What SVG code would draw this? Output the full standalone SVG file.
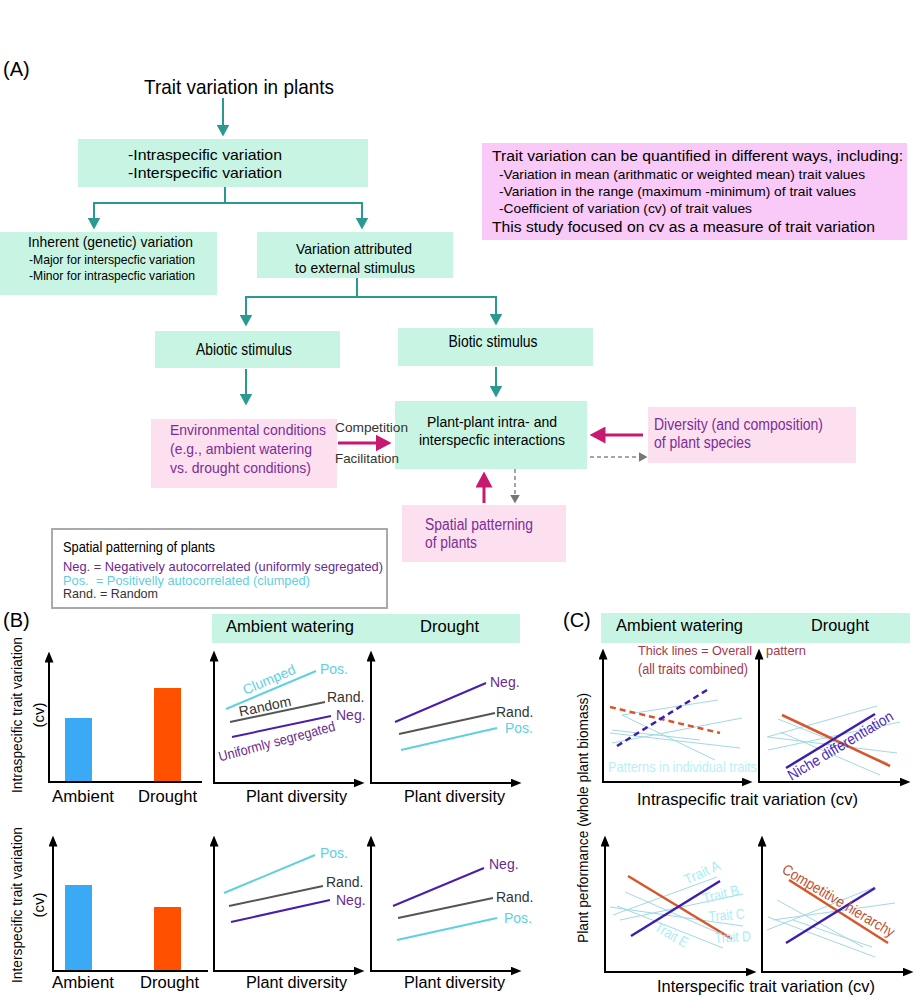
<svg xmlns="http://www.w3.org/2000/svg" width="915" height="1000" viewBox="0 0 915 1000">
<style>
text{font-family:"Liberation Sans",Arial,sans-serif}
.teal{fill:#c8f5e3}
.pink{fill:#fde0ef}
.mg{fill:#f9c9f7}
.pu{fill:#7b2d9a}
.conn{fill:none;stroke:#2a9a90;stroke-width:2;marker-end:url(#tealHead)}
.mag{fill:none;stroke:#c8186f;stroke-width:3;marker-end:url(#magHead)}
.dash{fill:none;stroke:#888;stroke-width:1.5;stroke-dasharray:4 3;marker-end:url(#grayHead)}
.ax{fill:none;stroke:#000;stroke-width:2}
.ax2{marker-start:url(#axHead);marker-end:url(#axHead)}
.ax1{marker-start:url(#axHead)}
.cy{stroke:#5fd0e0;stroke-width:2}
.gr{stroke:#555;stroke-width:2}
.ind{stroke:#4a1fa8;stroke-width:2}
.thin{stroke:#a3d8e4;stroke-width:1}
.org{stroke:#d9552b;stroke-width:2.5}
.ind2{stroke:#3b20b0;stroke-width:2.5}
.lcy{fill:#5fd0e0}
.lgr{fill:#333}
.lpu{fill:#6a2a8e}
.ltr{fill:#a8eef6}
.lred{fill:#a8384a}
</style>
<defs>
<marker id="tealHead" viewBox="0 0 12 13" refX="0.5" refY="6.5" markerWidth="12" markerHeight="13" markerUnits="userSpaceOnUse" orient="auto"><path d="M0,0 L12,6.5 L0,13 z" fill="#2a9a90"/></marker>
<marker id="magHead" viewBox="0 0 16 17" refX="0.5" refY="8.5" markerWidth="16" markerHeight="17" markerUnits="userSpaceOnUse" orient="auto"><path d="M0,0 L16,8.5 L0,17 z" fill="#c8186f"/></marker>
<marker id="grayHead" viewBox="0 0 9 10" refX="0.5" refY="5" markerWidth="9" markerHeight="10" markerUnits="userSpaceOnUse" orient="auto"><path d="M0,0 L9,5 L0,10 z" fill="#777"/></marker>
<marker id="axHead" viewBox="0 0 11 9" refX="0.5" refY="4.5" markerWidth="11" markerHeight="9" markerUnits="userSpaceOnUse" orient="auto-start-reverse"><path d="M0,0 L11,4.5 L0,9 z" fill="#000"/></marker>
</defs>
<rect width="915" height="1000" fill="#fff"/>

<!-- Panel A -->
<text x="3" y="76" font-size="20">(A)</text>
<g id="n-title"><text x="239" y="94" font-size="21" text-anchor="middle" textLength="190" lengthAdjust="spacingAndGlyphs">Trait variation in plants</text></g>
<g id="n-variation"><rect class="teal" x="78" y="139" width="290" height="48"/>
<text x="128" y="160" font-size="15" textLength="154" lengthAdjust="spacingAndGlyphs">-Intraspecific variation</text>
<text x="128" y="178" font-size="15" textLength="154" lengthAdjust="spacingAndGlyphs">-Interspecific variation</text></g>
<g id="n-inherent"><rect class="teal" x="0" y="232" width="217" height="63"/>
<text x="28" y="247" font-size="14.5" textLength="165" lengthAdjust="spacingAndGlyphs">Inherent (genetic) variation</text>
<text x="29" y="264" font-size="13" textLength="166" lengthAdjust="spacingAndGlyphs">-Major for interspecfic variation</text>
<text x="29" y="280" font-size="13" textLength="166" lengthAdjust="spacingAndGlyphs">-Minor for intraspecfic variation</text></g>
<g id="n-external"><rect class="teal" x="257" y="232" width="196" height="46"/>
<text x="354" y="254" font-size="15" text-anchor="middle" textLength="116" lengthAdjust="spacingAndGlyphs">Variation attributed</text>
<text x="355" y="273" font-size="15" text-anchor="middle" textLength="120" lengthAdjust="spacingAndGlyphs">to external stimulus</text></g>
<g id="n-quantify"><rect class="mg" x="482" y="143" width="425" height="97"/>
<text x="492" y="161" font-size="15.5" textLength="411" lengthAdjust="spacingAndGlyphs">Trait variation can be quantified in different ways, including:</text>
<text x="499" y="179" font-size="13" textLength="366" lengthAdjust="spacingAndGlyphs">-Variation in mean (arithmatic or weighted mean) trait values</text>
<text x="499" y="196" font-size="13" textLength="357" lengthAdjust="spacingAndGlyphs">-Variation in the range (maximum -minimum) of trait values</text>
<text x="499" y="213" font-size="13" textLength="253" lengthAdjust="spacingAndGlyphs">-Coefficient of variation (cv) of trait values</text>
<text x="492" y="232" font-size="15.5" textLength="383" lengthAdjust="spacingAndGlyphs">This study focused on cv as a measure of trait variation</text></g>
<g id="n-abiotic"><rect class="teal" x="155" y="331" width="185" height="37"/>
<text x="244" y="355" font-size="16" text-anchor="middle" textLength="96" lengthAdjust="spacingAndGlyphs">Abiotic stimulus</text></g>
<g id="n-biotic"><rect class="teal" x="398" y="328" width="195" height="38"/>
<text x="493" y="347" font-size="16" text-anchor="middle" textLength="89" lengthAdjust="spacingAndGlyphs">Biotic stimulus</text></g>
<g id="n-env"><rect class="pink" x="151" y="419" width="186" height="69"/>
<text class="pu" x="170" y="435" font-size="14.5" textLength="156" lengthAdjust="spacingAndGlyphs">Environmental conditions</text>
<text class="pu" x="170" y="454" font-size="14.5" textLength="142" lengthAdjust="spacingAndGlyphs">(e.g., ambient watering</text>
<text class="pu" x="170" y="473" font-size="14.5" textLength="141" lengthAdjust="spacingAndGlyphs">vs. drought conditions)</text></g>
<g id="n-interact"><rect class="teal" x="395" y="401" width="192" height="68"/>
<text x="492" y="427" font-size="15.5" text-anchor="middle" textLength="130" lengthAdjust="spacingAndGlyphs">Plant-plant intra- and</text>
<text x="492" y="445" font-size="15.5" text-anchor="middle" textLength="146" lengthAdjust="spacingAndGlyphs">interspecfic interactions</text></g>
<g id="n-diversity"><rect class="pink" x="648" y="407" width="208" height="56"/>
<text class="pu" x="654" y="430" font-size="16" textLength="169" lengthAdjust="spacingAndGlyphs">Diversity (and composition)</text>
<text class="pu" x="654" y="448" font-size="16" textLength="97" lengthAdjust="spacingAndGlyphs">of plant species</text></g>
<g id="n-spatial"><rect class="pink" x="402" y="505" width="164" height="57"/>
<text class="pu" x="425" y="530" font-size="16" textLength="108" lengthAdjust="spacingAndGlyphs">Spatial patterning</text>
<text class="pu" x="425" y="548" font-size="16" textLength="52" lengthAdjust="spacingAndGlyphs">of plants</text></g>

<g id="connectors">
<path class="conn" d="M223,98 V125"/>
<path class="conn" d="M225,187 V203 H94 V218"/>
<path class="conn" d="M225,203 H362 V218"/>
<path class="conn" d="M357,278 V297 H246 V315"/>
<path class="conn" d="M357,297 H496 V314"/>
<path class="conn" d="M246,369 V394"/>
<path class="conn" d="M496,367 V386"/>
<path class="mag" d="M338,443 H376"/>
<path class="mag" d="M643,435 H605"/>
<path class="mag" d="M484,503 V487"/>
<path class="dash" d="M590,457 H639"/>
<path class="dash" d="M515,469 V495"/>
<text x="335" y="432" font-size="13.5" fill="#333" textLength="73" lengthAdjust="spacingAndGlyphs">Competition</text>
<text x="335" y="463" font-size="13.5" fill="#333" textLength="64" lengthAdjust="spacingAndGlyphs">Facilitation</text>
</g>

<g id="n-legend"><rect x="52" y="529" width="335" height="79" fill="#fff" stroke="#aaa" stroke-width="2"/>
<text x="63" y="552" font-size="14" textLength="152" lengthAdjust="spacingAndGlyphs">Spatial patterning of plants</text>
<text class="lpu" x="63" y="571" font-size="13" textLength="320" lengthAdjust="spacingAndGlyphs">Neg. = Negatively autocorrelated (uniformly segregated)</text>
<text class="lcy" x="63" y="584.5" font-size="13" xml:space="preserve" textLength="247" lengthAdjust="spacingAndGlyphs">Pos.  = Positivelly autocorrelated (clumped)</text>
<text class="lgr" x="63" y="598" font-size="13" textLength="95" lengthAdjust="spacingAndGlyphs">Rand. = Random</text></g>

<!-- Panel B -->
<g id="panel-b">
<text x="3" y="627" font-size="20">(B)</text>
<rect class="teal" x="212" y="614" width="308" height="29"/>
<text x="226" y="632" font-size="16" textLength="128" lengthAdjust="spacingAndGlyphs">Ambient watering</text>
<text x="420" y="632" font-size="16" textLength="59" lengthAdjust="spacingAndGlyphs">Drought</text>
<!-- top row -->
<text transform="translate(22,715) rotate(-90)" font-size="15" text-anchor="middle" textLength="156" lengthAdjust="spacingAndGlyphs">Intraspecific trait variation</text>
<text transform="translate(44,715) rotate(-90)" font-size="15" text-anchor="middle">(cv)</text>
<rect x="65" y="718" width="27" height="64" fill="#3aaaf5"/>
<rect x="154" y="688" width="27" height="94" fill="#ff5000"/>
<path class="ax ax1" d="M49,662 V782 H202"/>
<text x="52" y="802" font-size="16" textLength="62" lengthAdjust="spacingAndGlyphs">Ambient</text>
<text x="138" y="802" font-size="16" textLength="59" lengthAdjust="spacingAndGlyphs">Drought</text>
<path class="ax ax2" d="M214,661 V783 H354"/>
<line class="cy" x1="226" y1="709" x2="316" y2="671"/>
<line class="gr" x1="230" y1="722" x2="325" y2="702"/>
<line class="ind" x1="232" y1="737" x2="331" y2="716"/>
<text class="lcy" transform="translate(271,684) rotate(-23)" font-size="14" text-anchor="middle">Clumped</text>
<text class="lgr" transform="translate(266,711) rotate(-12)" font-size="14" text-anchor="middle">Random</text>
<text class="lpu" transform="translate(278,746) rotate(-15)" font-size="14" text-anchor="middle" textLength="120" lengthAdjust="spacingAndGlyphs">Uniformly segregated</text>
<text class="lcy" x="320" y="674" font-size="14">Pos.</text>
<text class="lgr" x="327" y="702" font-size="14">Rand.</text>
<text class="lpu" x="336" y="720" font-size="14">Neg.</text>
<text x="246" y="802" font-size="16" textLength="101" lengthAdjust="spacingAndGlyphs">Plant diversity</text>
<path class="ax ax2" d="M371,661 V783 H511"/>
<line class="ind" x1="395" y1="722" x2="486" y2="683"/>
<line class="gr" x1="399" y1="734" x2="495" y2="713"/>
<line class="cy" x1="401" y1="750" x2="497" y2="728"/>
<text class="lpu" x="490" y="687" font-size="14">Neg.</text>
<text class="lgr" x="496" y="717" font-size="14">Rand.</text>
<text class="lcy" x="505" y="733" font-size="14">Pos.</text>
<text x="404" y="802" font-size="16" textLength="101" lengthAdjust="spacingAndGlyphs">Plant diversity</text>
<!-- bottom row -->
<text transform="translate(22,905) rotate(-90)" font-size="15" text-anchor="middle" textLength="156" lengthAdjust="spacingAndGlyphs">Interspecific trait variation</text>
<text transform="translate(44,905) rotate(-90)" font-size="15" text-anchor="middle">(cv)</text>
<rect x="65" y="885" width="27" height="86" fill="#3aaaf5"/>
<rect x="154" y="907" width="27" height="64" fill="#ff5000"/>
<path class="ax ax1" d="M53,846 V971 H208"/>
<text x="52" y="988" font-size="16" textLength="62" lengthAdjust="spacingAndGlyphs">Ambient</text>
<text x="140" y="988" font-size="16" textLength="59" lengthAdjust="spacingAndGlyphs">Drought</text>
<path class="ax ax2" d="M214,846 V971 H354"/>
<line class="cy" x1="224" y1="893" x2="315" y2="855"/>
<line class="gr" x1="229" y1="906" x2="323" y2="886"/>
<line class="ind" x1="231" y1="922" x2="330" y2="900"/>
<text class="lcy" x="320" y="858" font-size="14">Pos.</text>
<text class="lgr" x="326" y="887" font-size="14">Rand.</text>
<text class="lpu" x="336" y="905" font-size="14">Neg.</text>
<text x="246" y="988" font-size="16" textLength="101" lengthAdjust="spacingAndGlyphs">Plant diversity</text>
<path class="ax ax2" d="M371,846 V971 H511"/>
<line class="ind" x1="393" y1="906" x2="484" y2="868"/>
<line class="gr" x1="398" y1="918" x2="493" y2="898"/>
<line class="cy" x1="397" y1="940" x2="497" y2="918"/>
<text class="lpu" x="489" y="869" font-size="14">Neg.</text>
<text class="lgr" x="496" y="902" font-size="14">Rand.</text>
<text class="lcy" x="504" y="923" font-size="14">Pos.</text>
<text x="404" y="988" font-size="16" textLength="101" lengthAdjust="spacingAndGlyphs">Plant diversity</text>
</g>

<!-- Panel C -->
<g id="panel-c">
<text x="563" y="627" font-size="20">(C)</text>
<rect class="teal" x="601" y="613" width="309" height="30"/>
<text x="616" y="631" font-size="16" textLength="127" lengthAdjust="spacingAndGlyphs">Ambient watering</text>
<text x="811" y="631" font-size="16" textLength="58" lengthAdjust="spacingAndGlyphs">Drought</text>
<text transform="translate(588,818) rotate(-90)" font-size="15" text-anchor="middle" textLength="250" lengthAdjust="spacingAndGlyphs">Plant performance (whole plant biomass)</text>
<!-- top left -->
<line class="thin" x1="622" y1="715" x2="718" y2="700"/>
<line class="thin" x1="612" y1="743" x2="742" y2="718"/>
<line class="thin" x1="622" y1="715" x2="715" y2="760"/>
<line class="thin" x1="610" y1="733" x2="740" y2="748"/>
<line class="thin" x1="612" y1="730" x2="700" y2="740"/>
<line class="org" x1="610" y1="707" x2="720" y2="733" stroke-dasharray="6 4"/>
<line class="ind2" x1="617" y1="746" x2="707" y2="690" stroke-dasharray="6 4"/>
<text class="lred" x="638" y="655" font-size="13.5" textLength="114" lengthAdjust="spacingAndGlyphs">Thick lines = Overall</text>
<text class="lred" x="766" y="655" font-size="13.5" textLength="40" lengthAdjust="spacingAndGlyphs">pattern</text>
<text class="lred" x="638" y="674" font-size="14" textLength="110" lengthAdjust="spacingAndGlyphs">(all traits combined)</text>
<text x="608" y="772" font-size="14.5" fill="#b8f0f6" textLength="149" lengthAdjust="spacingAndGlyphs">Patterns in individual traits</text>
<path class="ax ax2" d="M603,659 V782 H742"/>
<!-- top right -->
<line class="thin" x1="767" y1="737" x2="877" y2="706"/>
<line class="thin" x1="768" y1="750" x2="900" y2="722"/>
<line class="thin" x1="778" y1="719" x2="888" y2="763"/>
<line class="thin" x1="768" y1="737" x2="897" y2="753"/>
<line class="thin" x1="780" y1="732" x2="880" y2="775"/>
<line class="org" x1="782" y1="715" x2="890" y2="766"/>
<line class="ind2" x1="786" y1="768" x2="875" y2="714"/>
<text transform="translate(843,750) rotate(-31)" font-size="15" fill="#4a2ab8" text-anchor="middle" textLength="120" lengthAdjust="spacingAndGlyphs">Niche differentiation</text>
<path class="ax ax2" d="M759,659 V782 H900"/>
<text x="637" y="805" font-size="17" textLength="221" lengthAdjust="spacingAndGlyphs">Intraspecific trait variation (cv)</text>
<!-- bottom left -->
<line class="thin" x1="613" y1="915" x2="717" y2="877"/>
<line class="thin" x1="620" y1="920" x2="743" y2="894"/>
<line class="thin" x1="610" y1="907" x2="743" y2="926"/>
<line class="thin" x1="625" y1="892" x2="730" y2="938"/>
<line class="thin" x1="617" y1="906" x2="723" y2="948"/>
<line class="org" x1="628" y1="876" x2="732" y2="939"/>
<line class="ind2" x1="631" y1="936" x2="720" y2="881"/>
<text class="ltr" transform="translate(704,877) rotate(-25)" font-size="14.5" text-anchor="middle" textLength="38" lengthAdjust="spacingAndGlyphs">Trait A</text>
<text class="ltr" transform="translate(722,899) rotate(-15)" font-size="14.5" text-anchor="middle" textLength="37" lengthAdjust="spacingAndGlyphs">Trait B</text>
<text class="ltr" transform="translate(727,920) rotate(-5)" font-size="14.5" text-anchor="middle" textLength="36" lengthAdjust="spacingAndGlyphs">Trait C</text>
<text class="ltr" transform="translate(733,942) rotate(-3)" font-size="14.5" text-anchor="middle" textLength="36" lengthAdjust="spacingAndGlyphs">Trait D</text>
<text class="ltr" transform="translate(669,939) rotate(30)" font-size="14.5" text-anchor="middle" textLength="36" lengthAdjust="spacingAndGlyphs">Trait E</text>
<path class="ax ax2" d="M605,846 V972 H746"/>
<!-- bottom right -->
<line class="thin" x1="767" y1="930" x2="875" y2="887"/>
<line class="thin" x1="773" y1="920" x2="895" y2="903"/>
<line class="thin" x1="777" y1="900" x2="863" y2="947"/>
<line class="thin" x1="768" y1="917" x2="875" y2="957"/>
<line class="thin" x1="793" y1="920" x2="872" y2="947"/>
<line class="org" x1="789" y1="880" x2="888" y2="943"/>
<line class="ind2" x1="786" y1="943" x2="875" y2="888"/>
<text transform="translate(836,905) rotate(30.7)" font-size="15" fill="#c0502e" text-anchor="middle" textLength="128" lengthAdjust="spacingAndGlyphs">Competitive hierarchy</text>
<path class="ax ax2" d="M762,846 V972 H903"/>
<text x="657" y="992" font-size="17" textLength="218" lengthAdjust="spacingAndGlyphs">Interspecific trait variation (cv)</text>
</g>
</svg>
